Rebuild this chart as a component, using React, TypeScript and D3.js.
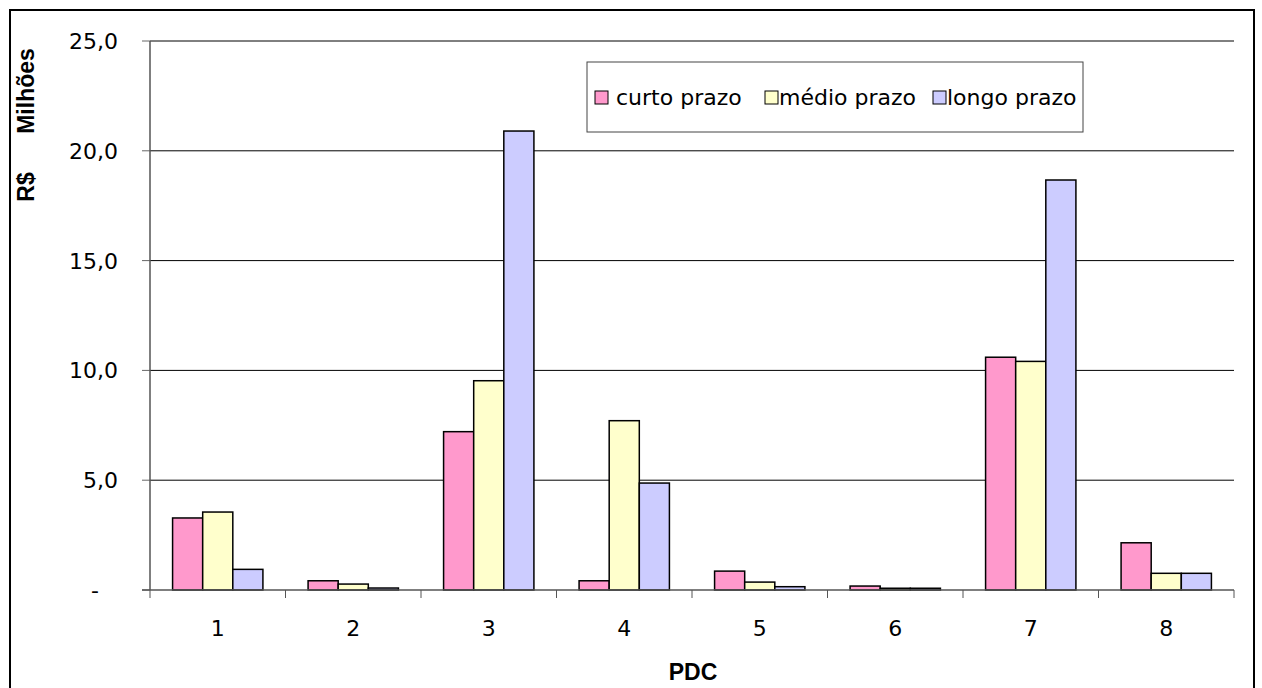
import React from "react";
import * as d3 from "d3";

const categories = ["1", "2", "3", "4", "5", "6", "7", "8"];
const seriesNames = ["curto prazo", "médio prazo", "longo prazo"];
const seriesColors = ["#FF99CC", "#FFFFCC", "#CCCCFF"];
const curtoPrazo = [3.28, 0.42, 7.21, 0.42, 0.86, 0.18, 10.6, 2.15];
const medioPrazo = [3.55, 0.27, 9.53, 7.71, 0.36, 0.08, 10.41, 0.76];
const longoPrazo = [0.94, 0.09, 20.9, 4.87, 0.15, 0.08, 18.67, 0.76];
const yTicks = [0, 5, 10, 15, 20, 25];
const yTickLabels = ["-", "5,0", "10,0", "15,0", "20,0", "25,0"];

const W = 1262;
const H = 688;
const plot = { left: 150, right: 1234, top: 41, bottom: 590 };

export default function App() {
  const x = d3.scaleBand<string>().domain(categories).range([plot.left, plot.right]).paddingInner(0).paddingOuter(0);
  const y = d3.scaleLinear().domain([0, 25]).range([plot.bottom, plot.top]);
  const step = x.bandwidth();
  const bw = step / 4.5;
  const inner = d3
    .scaleBand<number>()
    .domain([0, 1, 2])
    .range([(step - 3 * bw) / 2, (step + 3 * bw) / 2]);
  const series = [curtoPrazo, medioPrazo, longoPrazo];
  const font = "'DejaVu Sans', Verdana, sans-serif";
  const boldFont = "'Liberation Sans', Arial, sans-serif";

  const legendItems = [
    { sx: 595, tx: 616 },
    { sx: 765, tx: 779 },
    { sx: 933, tx: 947 },
  ];

  return (
    <svg width={W} height={H} style={{ position: "absolute", left: 0, top: 0, background: "#fff" }}>
      <rect x={0} y={0} width={W} height={H} fill="#fff" />
      <rect x={10} y={10} width={1244} height={700} fill="none" stroke="#000" strokeWidth={2} />
      {/* gridlines */}
      {yTicks.filter((t) => t > 0).map((t) => (
        <line key={"g" + t} x1={plot.left} x2={plot.right} y1={y(t)} y2={y(t)} stroke="#000" strokeWidth={1} />
      ))}
      {/* y ticks */}
      {yTicks.map((t, i) => (
        <g key={"yt" + t}>
          <line x1={plot.left - 8} x2={plot.left} y1={y(t)} y2={y(t)} stroke="#666" strokeWidth={1} />
          {t === 0 ? (
            <text x={95} y={y(t) + 8} textAnchor="middle" fontFamily={font} fontSize={22} fill="#000">
              {yTickLabels[i]}
            </text>
          ) : (
            <text x={118} y={y(t) + 8} textAnchor="end" fontFamily={font} fontSize={22} fill="#000">
              {yTickLabels[i]}
            </text>
          )}
        </g>
      ))}
      {/* bars */}
      {categories.map((c, ci) => (
        <g key={"c" + c} transform={`translate(${x(c)},0)`}>
          {series.map((s, si) => (
            <rect
              key={si}
              x={inner(si)}
              y={y(s[ci])}
              width={bw}
              height={y(0) - y(s[ci])}
              fill={seriesColors[si]}
              stroke="#000"
              strokeWidth={1.5}
            />
          ))}
        </g>
      ))}
      {/* axes */}
      <line x1={plot.left} x2={plot.left} y1={plot.top} y2={plot.bottom} stroke="#555" strokeWidth={1.5} />
      <line x1={plot.left - 8} x2={plot.right} y1={plot.bottom} y2={plot.bottom} stroke="#555" strokeWidth={1.5} />
      {d3.range(categories.length + 1).map((i) => {
        const xx = plot.left + i * step;
        return <line key={"xt" + i} x1={xx} x2={xx} y1={plot.bottom} y2={plot.bottom + 8} stroke="#555" strokeWidth={1} />;
      })}
      {categories.map((c) => (
        <text key={"xl" + c} x={(x(c) as number) + step / 2} y={636} textAnchor="middle" fontFamily={font} fontSize={22} fill="#000">
          {c}
        </text>
      ))}
      {/* axis titles */}
      <text x={693} y={680} textAnchor="middle" fontFamily={boldFont} fontWeight="bold" fontSize={23} fill="#000">
        PDC
      </text>
      <text transform="translate(34,91) rotate(-90)" textAnchor="middle" fontFamily={boldFont} fontWeight="bold" fontSize={23} fill="#000">
        Milhões
      </text>
      <text transform="translate(34,187) rotate(-90)" textAnchor="middle" fontFamily={boldFont} fontWeight="bold" fontSize={23} fill="#000">
        R$
      </text>
      {/* legend */}
      <rect x={587} y={62} width={496} height={70} fill="#fff" stroke="#444" strokeWidth={1} />
      {seriesNames.map((n, i) => (
        <g key={"lg" + i}>
          <rect x={legendItems[i].sx} y={91} width={13} height={13} fill={seriesColors[i]} stroke="#000" strokeWidth={1} />
          <text x={legendItems[i].tx} y={105} fontFamily={font} fontSize={22} fill="#000">
            {n}
          </text>
        </g>
      ))}
    </svg>
  );
}
